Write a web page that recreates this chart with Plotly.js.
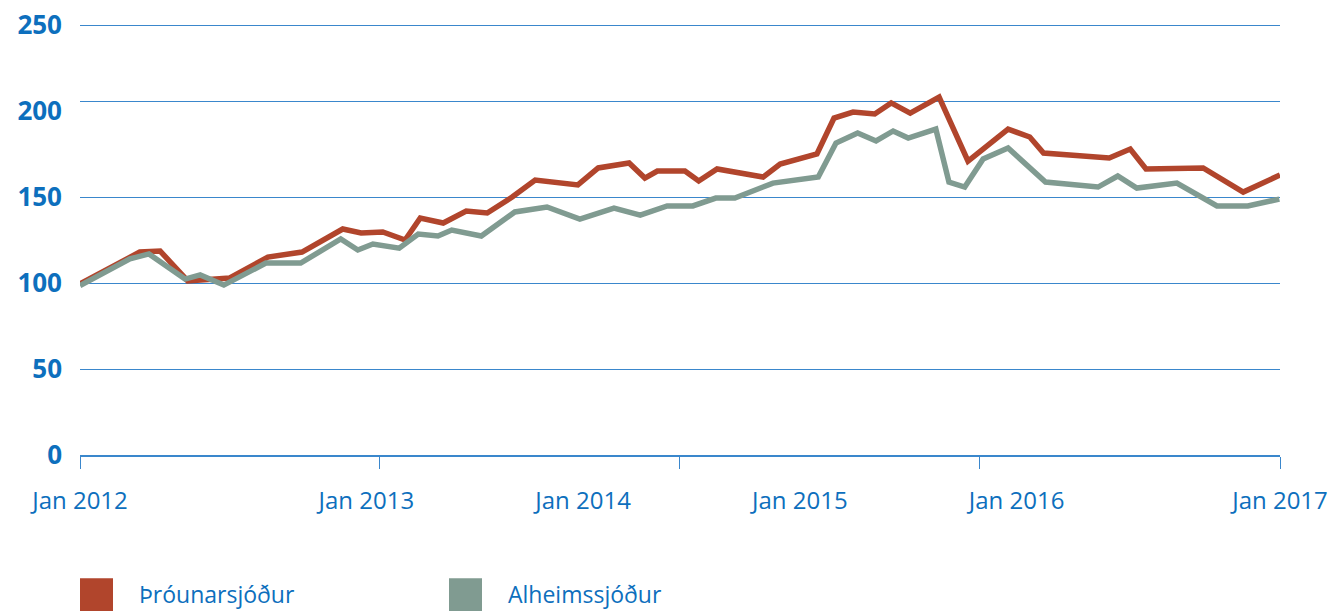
<!DOCTYPE html>
<html>
<head>
<meta charset="utf-8">
<script src="https://cdn.plot.ly/plotly-3.0.1.min.js"></script>
<style>html,body{margin:0;padding:0;background:#fff;}#chart{width:1339px;height:611px;}</style>
</head>
<body>
<div id="chart"></div>
<script>
// Series names
const seriesNames = ['Þróunarsjóður', 'Alheimssjóður'];

// Þróunarsjóður (red)
const redDates = ['2012-01-01','2012-04-01','2012-05-02','2012-06-13','2012-08-16','2012-10-13','2012-12-04',
  '2013-02-04','2013-03-04','2013-04-06','2013-05-10','2013-06-02','2013-07-07','2013-08-11','2013-09-12','2013-10-20','2013-11-24',
  '2014-01-28','2014-02-28','2014-04-16','2014-05-10','2014-05-29','2014-07-10','2014-07-31','2014-08-28','2014-11-06','2014-12-02',
  '2015-01-27','2015-02-22','2015-03-23','2015-04-25','2015-05-20','2015-06-18','2015-08-01','2015-09-14','2015-11-14','2015-12-17',
  '2016-01-07','2016-04-16','2016-05-18','2016-06-11','2016-09-06','2016-11-06','2017-01-01'];
const redValues = [99.5,118.0,118.6,101.2,102.9,115.1,118.0,
  131.4,129.1,129.7,125.0,137.8,134.9,141.9,140.7,150.0,159.9,
  157.0,166.9,169.8,161.0,165.1,165.1,159.3,166.3,161.6,169.2,
  175.0,195.9,199.4,198.3,204.7,198.8,208.1,170.9,189.5,184.9,
  175.6,172.7,177.9,166.3,166.9,152.9,162.8];

// Alheimssjóður (grey-green)
const grayDates = ['2012-01-01','2012-03-17','2012-04-15','2012-06-09','2012-07-02','2012-08-07','2012-10-10','2012-12-02',
  '2013-02-01','2013-02-27','2013-03-22','2013-05-01','2013-05-30','2013-06-29','2013-07-20','2013-09-03','2013-10-24','2013-12-12',
  '2014-01-31','2014-03-24','2014-05-03','2014-06-13','2014-07-22','2014-08-26','2014-09-24','2014-11-21',
  '2015-01-29','2015-02-25','2015-03-30','2015-04-27','2015-05-23','2015-06-15','2015-07-27','2015-08-16','2015-09-09','2015-10-07','2015-11-14',
  '2016-01-10','2016-03-30','2016-04-29','2016-05-28','2016-07-28','2016-09-27','2016-11-13','2016-12-31'];
const grayValues = [98.5,114.0,116.9,102.3,104.7,98.8,111.6,111.6,
  125.6,119.2,122.7,120.3,128.5,127.3,130.8,127.3,141.3,144.2,
  137.2,143.6,139.5,144.8,144.8,149.4,149.4,158.1,
  161.6,181.4,187.2,182.6,188.4,184.3,189.5,158.7,155.8,172.1,178.5,
  158.7,155.8,162.2,155.2,158.1,144.8,144.8,148.8];

// Axis ticks
const yTickVals = [0, 50, 100, 150, 200, 250];
const yTickText = ['0', '50', '100', '150', '200', '250'];
const yGridVals = [50, 100, 150, 205.8, 250];
const xLabelVals = ['2012-01-01','2013-03-12','2014-02-05','2015-01-01','2015-11-27','2017-01-01'];
const xLabelText = ['Jan 2012','Jan 2013','Jan 2014','Jan 2015','Jan 2016','Jan 2017'];
const xRange = ['2012-01-01', '2017-01-01'];
const yRange = [0, 250.6];

const RED = '#b1452c';
const GRAY = '#809b91';
const BLUE = '#0d6fbd';
const GRID = '#3a87cc';

const traces = [
  {x: redDates, y: redValues, name: seriesNames[0], type: 'scatter', mode: 'lines',
   line: {color: RED, width: 5.5}, xaxis: 'x', yaxis: 'y'},
  {x: grayDates, y: grayValues, name: seriesNames[1], type: 'scatter', mode: 'lines',
   line: {color: GRAY, width: 5.5}, xaxis: 'x2', yaxis: 'y2'}
];

const layout = {
  width: 1339, height: 611,
  margin: {l: 80, r: 59, t: 24, b: 156},
  paper_bgcolor: '#ffffff', plot_bgcolor: '#ffffff',
  showlegend: false,
  font: {family: 'Open Sans, sans-serif', color: BLUE},
  xaxis: {
    type: 'date', range: xRange, tick0: '2012-01-01', dtick: 'M15',
    showgrid: false, zeroline: false, showline: true, linecolor: GRID, linewidth: 1.5,
    ticks: 'outside', ticklen: 12, tickwidth: 1, tickcolor: GRID,
    showticklabels: false, automargin: false, fixedrange: true
  },
  xaxis2: {
    type: 'date', range: xRange, overlaying: 'x', anchor: 'y2', side: 'bottom',
    tickmode: 'array', tickvals: xLabelVals, ticktext: xLabelText,
    ticks: '', showgrid: false, zeroline: false, showline: false,
    ticklabelstandoff: 29,
    tickfont: {family: 'Open Sans, sans-serif', size: 24, color: BLUE},
    automargin: false, fixedrange: true
  },
  yaxis: {
    range: yRange, tickmode: 'array', tickvals: yTickVals, ticktext: yTickText,
    showgrid: false, zeroline: false, showline: false, ticks: '',
    ticklabelstandoff: 17,
    tickfont: {family: 'Open Sans, sans-serif', size: 26, color: BLUE, weight: 'bold'},
    automargin: false, fixedrange: true
  },
  yaxis2: {
    range: yRange, overlaying: 'y', anchor: 'x2', side: 'left',
    tickmode: 'array', tickvals: yGridVals,
    showgrid: true, gridcolor: GRID, gridwidth: 1, zeroline: false,
    showticklabels: false, ticks: '', showline: false, automargin: false, fixedrange: true
  },
  shapes: [
    {type: 'rect', xref: 'paper', yref: 'paper', x0: 0, x1: 0.0275, y0: -0.40, y1: -0.286,
     fillcolor: RED, line: {width: 0}},
    {type: 'rect', xref: 'paper', yref: 'paper', x0: 0.3075, x1: 0.335, y0: -0.40, y1: -0.286,
     fillcolor: GRAY, line: {width: 0}}
  ],
  annotations: [
    {xref: 'paper', yref: 'paper', x: 0.0475, y: -0.323, xanchor: 'left', yanchor: 'middle',
     text: seriesNames[0], showarrow: false, font: {family: 'Open Sans, sans-serif', size: 23, color: BLUE}},
    {xref: 'paper', yref: 'paper', x: 0.355, y: -0.323, xanchor: 'left', yanchor: 'middle',
     text: seriesNames[1], showarrow: false, font: {family: 'Open Sans, sans-serif', size: 23, color: BLUE}}
  ]
};

Plotly.newPlot('chart', traces, layout, {displayModeBar: false, staticPlot: true});
</script>
</body>
</html>
